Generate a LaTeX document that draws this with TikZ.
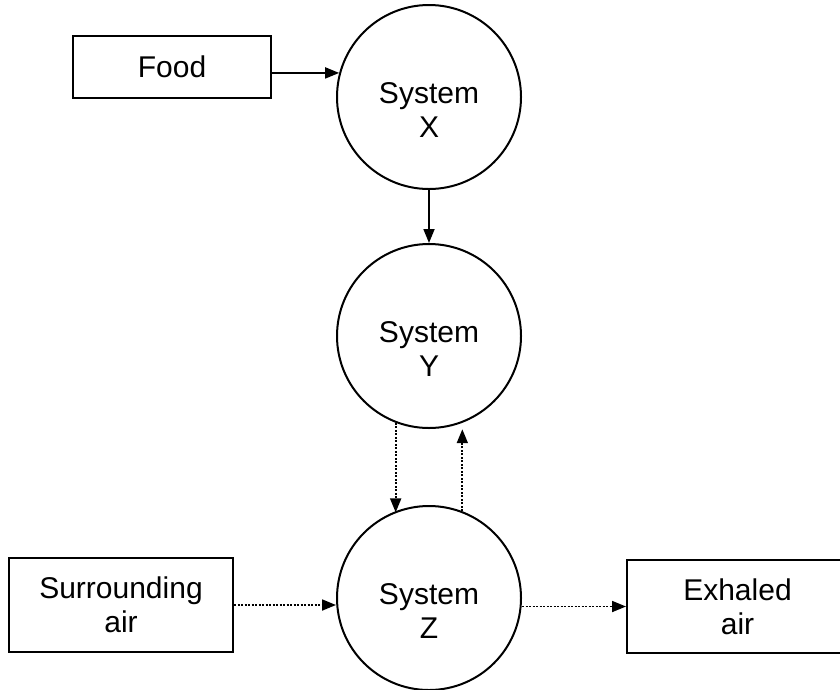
\documentclass[tikz,border=0pt]{standalone}
\usepackage{fontspec}
\setmainfont{Liberation Sans}
\usetikzlibrary{arrows.meta}
\begin{document}
\begin{tikzpicture}[x=1pt,y=-1pt,
  every node/.style={font=\fontsize{30}{34}\selectfont, align=center, inner sep=0pt},
  sys/.style={draw, circle, line width=2pt, minimum size=184pt},
  syslabel/.style={label={[yshift=-13pt]center:#1}},
  box/.style={draw, rectangle, line width=2pt},
  arr/.style={line width=1.8pt, -{Triangle[length=14pt,width=11pt]}},
  dotarr/.style={line width=1.8pt, dash pattern=on 2pt off 1.5pt, -{Triangle[length=14pt,width=11pt]}}]
\useasboundingbox (0,0) rectangle (840,689);
\node[box, minimum width=198pt, minimum height=62pt] (food) at (172,67) {Food};
\node[box, minimum width=224pt, minimum height=94pt] (surr) at (121,605) {Surrounding\\air};
\node[box, minimum width=221pt, minimum height=93pt] (exh) at (737.5,606.5) {Exhaled\\air};
\node[sys, syslabel={System\\X}] (X) at (429,97) {};
\node[sys, syslabel={System\\Y}] (Y) at (429,336) {};
\node[sys, syslabel={System\\Z}] (Z) at (429,598) {};
\draw[arr] (food.east |- X.165) -- (X.165);
\draw[arr] (X.south) -- (Y.north);
\draw[dotarr] (Y.-111) -- (Y.-111 |- Z.113);
\draw[dotarr, shorten >=7pt] (Z.69) -- (Z.69 |- Y.-68);
\draw[dotarr] (surr.east) -- (surr.east -| Z.west);
\draw[dotarr] (Z.east |- exh.west) -- (exh.west);
\end{tikzpicture}
\end{document}
